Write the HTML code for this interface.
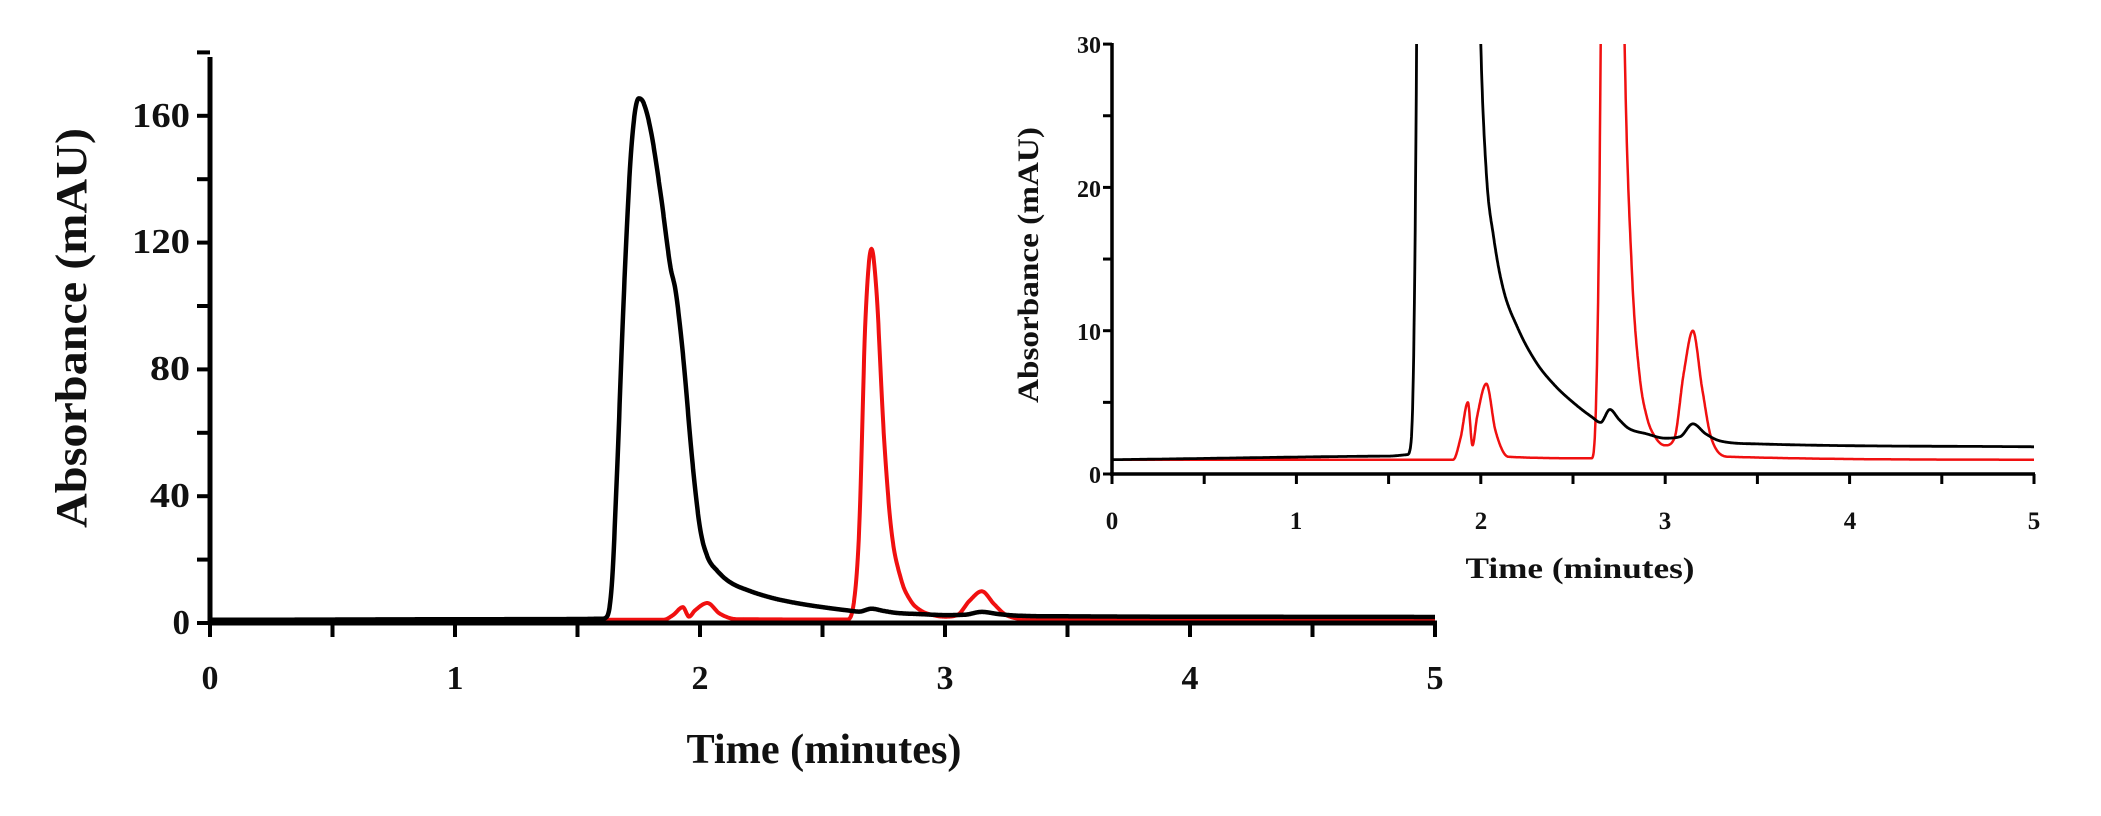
<!DOCTYPE html>
<html><head><meta charset="utf-8"><style>
html,body{margin:0;padding:0;background:#fff;}
svg{display:block;}
text{font-family:"Liberation Serif",serif;font-weight:bold;fill:#111;}
</style></head><body>
<svg id="s" width="2101" height="816" viewBox="0 0 2101 816" xmlns="http://www.w3.org/2000/svg">
<defs><clipPath id="ic"><rect x="1100" y="44" width="1000" height="440"/></clipPath></defs>
<g id="main"></g>
<g id="ins" clip-path="url(#ic)"></g>
<g id="insax"></g>
<!-- main labels -->
<g font-size="35" text-anchor="end">
<text x="190" y="127" textLength="58" lengthAdjust="spacingAndGlyphs">160</text>
<text x="190" y="253" textLength="58" lengthAdjust="spacingAndGlyphs">120</text>
<text x="190" y="380" textLength="40" lengthAdjust="spacingAndGlyphs">80</text>
<text x="190" y="507" textLength="40" lengthAdjust="spacingAndGlyphs">40</text>
<text x="190" y="634">0</text>
</g>
<g font-size="34" text-anchor="middle">
<text x="210" y="689">0</text>
<text x="455" y="689">1</text>
<text x="700" y="689">2</text>
<text x="945" y="689">3</text>
<text x="1190" y="689">4</text>
<text x="1435" y="689">5</text>
</g>
<text x="824" y="763" font-size="42" text-anchor="middle" textLength="275" lengthAdjust="spacingAndGlyphs">Time (minutes)</text>
<text transform="translate(86,328) rotate(-90)" font-size="44" text-anchor="middle" textLength="400" lengthAdjust="spacingAndGlyphs">Absorbance (mAU)</text>
<!-- inset labels -->
<g font-size="24" text-anchor="end">
<text x="1101" y="53">30</text>
<text x="1101" y="197">20</text>
<text x="1101" y="340">10</text>
<text x="1101" y="483">0</text>
</g>
<g font-size="25" text-anchor="middle">
<text x="1112" y="529">0</text>
<text x="1296" y="529">1</text>
<text x="1481" y="529">2</text>
<text x="1665" y="529">3</text>
<text x="1850" y="529">4</text>
<text x="2034" y="529">5</text>
</g>
<text x="1580" y="578" font-size="30" text-anchor="middle" textLength="229" lengthAdjust="spacingAndGlyphs">Time (minutes)</text>
<text transform="translate(1038,265) rotate(-90)" font-size="30" text-anchor="middle" textLength="276" lengthAdjust="spacingAndGlyphs">Absorbance (mAU)</text>
</svg>
<script>
var NS="http://www.w3.org/2000/svg";
var B=[[0,1.0],[1.5,1.25],[1.6,1.35],[1.62,2],[1.64,12],[1.66,45],[1.69,105],[1.72,150],[1.75,165.5],[1.77,164],[1.8,155],[1.84,135],[1.88,112],[1.9,105],[1.93,85],[1.97,50],[2.0,30],[2.03,21],[2.07,16.5],[2.12,13],[2.2,10.2],[2.3,7.8],[2.4,6.2],[2.5,5],[2.6,4],[2.65,3.6],[2.7,4.5],[2.75,3.8],[2.8,3.2],[2.9,2.8],[3.0,2.5],[3.08,2.6],[3.15,3.5],[3.22,2.8],[3.3,2.3],[3.5,2.1],[5,1.9]];
var R=[[0,1.0],[1.85,1.0],[1.89,2.5],[1.93,5],[1.955,2],[1.98,4],[2.03,6.3],[2.08,3],[2.15,1.2],[2.6,1.1],[2.625,5],[2.65,30],[2.675,95],[2.7,118],[2.72,105],[2.75,60],[2.78,30],[2.82,14],[2.86,7],[2.9,4],[2.95,2.5],[3.0,2],[3.05,2.5],[3.1,7],[3.15,10],[3.2,6],[3.25,2.5],[3.35,1.2],[5,1.0]];
function mono(P){var n=P.length,x=P.map(p=>p[0]),y=P.map(p=>p[1]),d=[],m=[];
for(var i=0;i<n-1;i++)d.push((y[i+1]-y[i])/(x[i+1]-x[i]));
m[0]=d[0];m[n-1]=d[n-2];
for(i=1;i<n-1;i++){m[i]=(d[i-1]*d[i]<=0)?0:(d[i-1]+d[i])/2;}
for(i=0;i<n-1;i++){if(d[i]==0){m[i]=0;m[i+1]=0;continue;}var a=m[i]/d[i],b=m[i+1]/d[i],s=a*a+b*b;if(s>9){var t=3/Math.sqrt(s);m[i]=t*a*d[i];m[i+1]=t*b*d[i];}}
return function(t){var i=0;while(i<n-2&&t>x[i+1])i++;var h=x[i+1]-x[i],u=(t-x[i])/h,u2=u*u,u3=u2*u;
return (2*u3-3*u2+1)*y[i]+(u3-2*u2+u)*h*m[i]+(-2*u3+3*u2)*y[i+1]+(u3-u2)*h*m[i+1];};}
var fB=mono(B),fR=mono(R);
function el(p,n,a){var e=document.createElementNS(NS,n);for(var k in a)e.setAttribute(k,a[k]);p.appendChild(e);return e;}
function path(f,X,Y){var d="";for(var t=0;t<=5.0001;t+=0.002){d+=(t?"L":"M")+X(t).toFixed(1)+","+Y(f(t)).toFixed(1);}return d;}
var m=document.getElementById("main");
var X1=function(t){return 210+245*t},Y1=function(v){return 623-3.17*v};
el(m,"path",{d:path(fR,X1,Y1),fill:"none",stroke:"#f01010","stroke-width":4,"stroke-linejoin":"round"});
el(m,"path",{d:path(fB,X1,Y1),fill:"none",stroke:"#000","stroke-width":4.5,"stroke-linejoin":"round"});
el(m,"line",{x1:210,y1:57,x2:210,y2:625,stroke:"#000","stroke-width":5});
el(m,"line",{x1:208,y1:623,x2:1437,y2:623,stroke:"#000","stroke-width":5});
for(var v=0;v<=180;v+=20){var y=Y1(v);el(m,"line",{x1:197,y1:y,x2:210,y2:y,stroke:"#000","stroke-width":4});}
for(var t=0;t<=5.01;t+=0.5){var x=X1(t);el(m,"line",{x1:x,y1:623,x2:x,y2:637,stroke:"#000","stroke-width":4});}
var n=document.getElementById("ins"),na=document.getElementById("insax");
var X2=function(t){return 1112+184.4*t},Y2=function(v){return 474-14.33*v};
el(n,"path",{d:path(fR,X2,Y2),fill:"none",stroke:"#f01010","stroke-width":2.5,"stroke-linejoin":"round"});
el(n,"path",{d:path(fB,X2,Y2),fill:"none",stroke:"#000","stroke-width":2.8,"stroke-linejoin":"round"});
el(na,"line",{x1:1112,y1:43,x2:1112,y2:476,stroke:"#000","stroke-width":3.5});
el(na,"line",{x1:1110,y1:474,x2:2035,y2:474,stroke:"#000","stroke-width":3.5});
for(var v=0;v<=30;v+=5){var y=Y2(v);el(na,"line",{x1:1103,y1:y,x2:1112,y2:y,stroke:"#000","stroke-width":3});}
for(var t=0;t<=5.01;t+=0.5){var x=X2(t);el(na,"line",{x1:x,y1:474,x2:x,y2:484,stroke:"#000","stroke-width":3});}
</script>
</body></html>
